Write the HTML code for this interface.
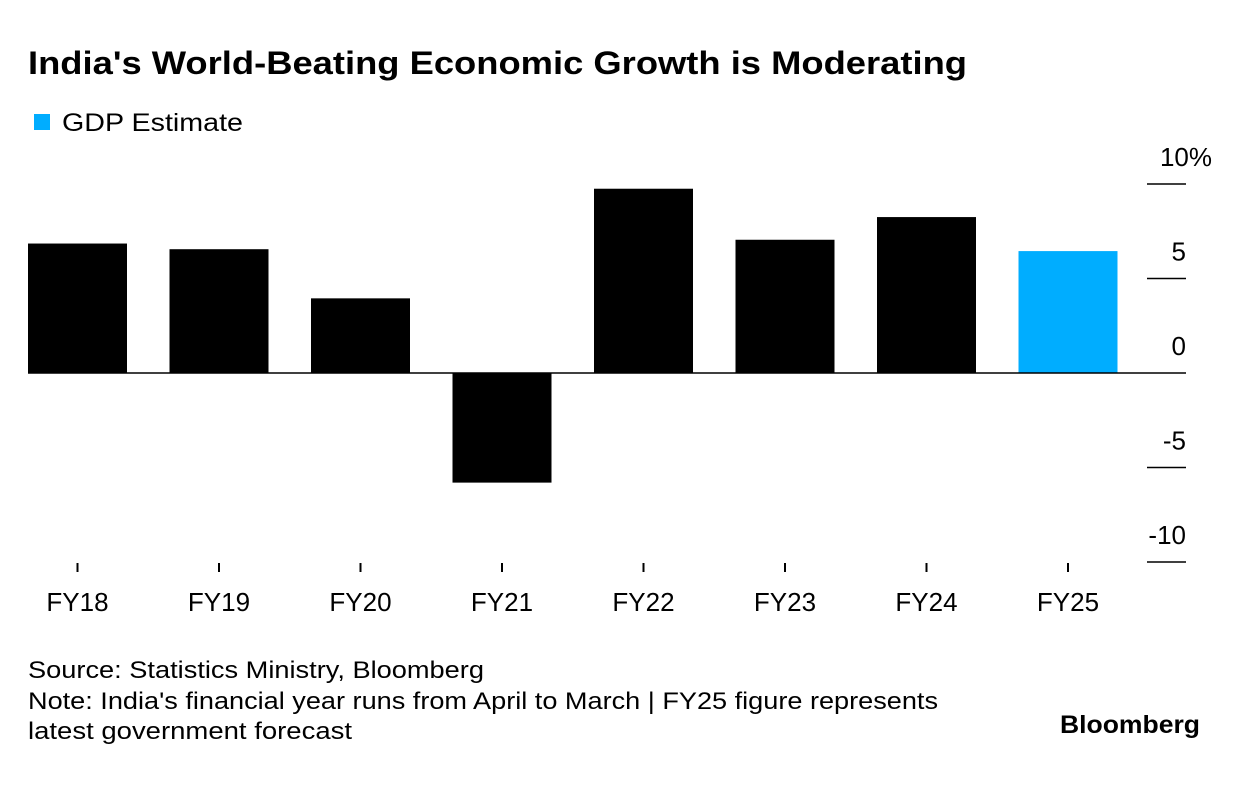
<!DOCTYPE html>
<html><head><meta charset="utf-8"><style>
body{margin:0;background:#fff;width:1240px;height:786px;overflow:hidden;font-family:"Liberation Sans",Arial,sans-serif;}
svg{position:absolute;left:0;top:0}
</style></head><body>
<svg width="1240" height="786">
<text x="28" y="74" font-size="32" font-weight="bold" fill="#000" textLength="939" lengthAdjust="spacingAndGlyphs">India's World-Beating Economic Growth is Moderating</text>
<rect x="34" y="114" width="16" height="16" fill="#00adff"/>
<text x="62" y="131" font-size="25" fill="#000" textLength="181" lengthAdjust="spacingAndGlyphs">GDP Estimate</text>
<g id="plot"></g>
<text x="28" y="678" font-size="24" fill="#000" textLength="456" lengthAdjust="spacingAndGlyphs">Source: Statistics Ministry, Bloomberg</text>
<text x="28" y="709" font-size="24" fill="#000" textLength="910" lengthAdjust="spacingAndGlyphs">Note: India's financial year runs from April to March | FY25 figure represents</text>
<text x="28" y="739" font-size="24" fill="#000" textLength="324" lengthAdjust="spacingAndGlyphs">latest government forecast</text>
<text x="1060" y="733" font-size="25" font-weight="bold" fill="#000" textLength="140" lengthAdjust="spacingAndGlyphs">Bloomberg</text>
</svg>
<script>
const categories=["FY18","FY19","FY20","FY21","FY22","FY23","FY24","FY25"];
const values=[6.85,6.55,3.95,-5.8,9.75,7.05,8.25,6.45];
const estimate=[false,false,false,false,false,false,false,true];
const ticks=[10,5,0,-5,-10];
const tickLabels=["10%","5","0","-5","-10"];
const NS="http://www.w3.org/2000/svg";
const g=document.getElementById('plot');
const y=v=>373-v*18.9;
const x=i=>28+i*141.5;
const bw=99;
function mk(t,a){const e=document.createElementNS(NS,t);for(const k in a)e.setAttribute(k,a[k]);g.appendChild(e);return e;}
values.forEach((v,i)=>{
 const r=mk('rect',{x:x(i),y:Math.min(y(v),y(0)),width:bw,height:Math.abs(y(v)-y(0)),fill:estimate[i]?'#00adff':'#000'});
 
 
 const tk=mk('line',{x1:x(i)+bw/2,x2:x(i)+bw/2,y1:563,y2:572,stroke:'#000','stroke-width':2});
 
 
 const t=mk('text',{x:x(i)+bw/2,y:611,'font-size':26,'text-anchor':'middle',fill:'#000'});
 t.textContent=categories[i];
 
 
});
ticks.forEach((v,i)=>{
 if(v!==0){const l=mk('line',{x1:1147,x2:1186,y1:y(v),y2:y(v),stroke:'#000','stroke-width':1.5});
 
 }
 const isPct=tickLabels[i].endsWith('%');
 const t=mk('text',{x:isPct?1212:1186,y:y(v)-18,'font-size':26,'text-anchor':'end',fill:'#000'});
 t.textContent=tickLabels[i];
 
 
});
const z=mk('line',{x1:28,x2:1186,y1:y(0),y2:y(0),stroke:'#000','stroke-width':1.5});


</script>
</body></html>
